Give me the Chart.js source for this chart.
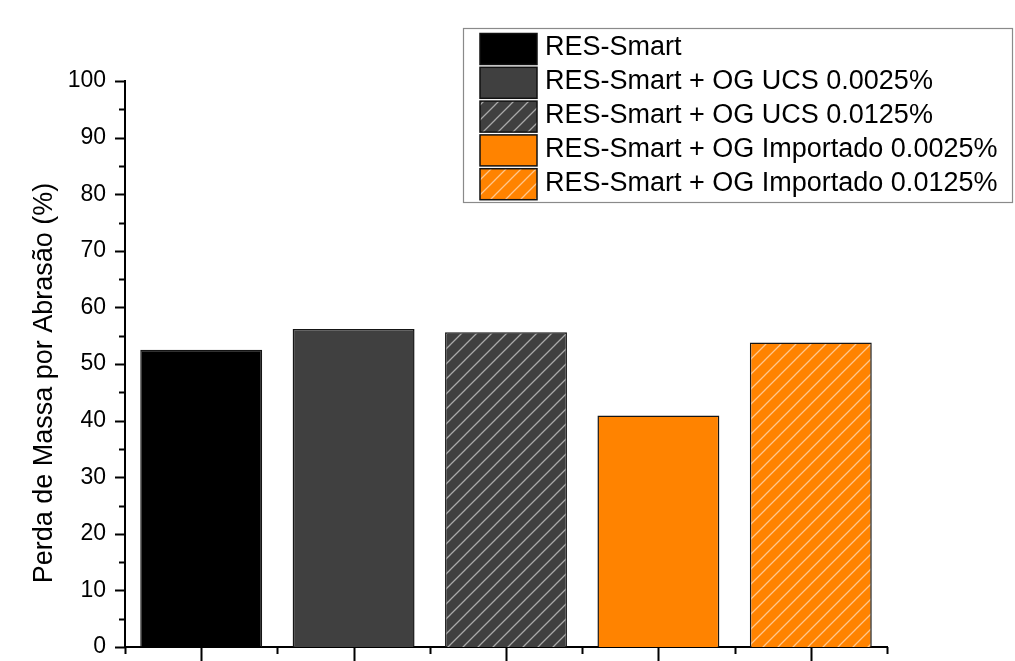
<!DOCTYPE html>
<html>
<head>
<meta charset="utf-8">
<script src="https://cdn.jsdelivr.net/npm/chart.js@4.4.1/dist/chart.umd.min.js"></script>
<style>
  html, body { margin: 0; padding: 0; background: #ffffff; }
  #wrap { width: 1015px; height: 661px; }
</style>
</head>
<body>
<div id="wrap"><canvas id="c" width="1015" height="661"></canvas></div>
<script>
// Amostras (categorias do eixo x / legenda)
const samples = [
  'RES-Smart',
  'RES-Smart + OG UCS 0.0025%',
  'RES-Smart + OG UCS 0.0125%',
  'RES-Smart + OG Importado 0.0025%',
  'RES-Smart + OG Importado 0.0125%'
];
// Perda de massa por abrasão (%)
const massLoss = [52.5, 56.2, 55.6, 40.9, 53.8];
// Rótulos do eixo y
const yTickValues = [0, 10, 20, 30, 40, 50, 60, 70, 80, 90, 100];
const yMinorValues = [5, 15, 25, 35, 45, 55, 65, 75, 85, 95];
const yTitle = 'Perda de Massa por Abrasão (%)';

const baseColors = ['#000000', '#404040', '#404040', '#FF8300', '#FF8300'];
const hatched = [false, false, true, false, true];

const FONT = 'Liberation Sans, Arial, Helvetica, sans-serif';

// diagonal "/" hatch over a solid base colour
function hatchPattern(ctx, base) {
  const s = 15;
  const t = document.createElement('canvas');
  t.width = s; t.height = s;
  const g = t.getContext('2d');
  g.fillStyle = base;
  g.fillRect(0, 0, s, s);
  g.strokeStyle = 'rgba(255,255,255,0.55)';
  g.lineWidth = 1.3;
  g.beginPath();
  g.moveTo(-2, s + 2); g.lineTo(s + 2, -2);
  g.moveTo(-2, 2); g.lineTo(2, -2);
  g.moveTo(s - 2, s + 2); g.lineTo(s + 2, s - 2);
  g.stroke();
  return ctx.createPattern(t, 'repeat');
}

const canvas = document.getElementById('c');
const ctx0 = canvas.getContext('2d');
const fills = baseColors.map((c, i) => hatched[i] ? hatchPattern(ctx0, c) : c);

const decorations = {
  id: 'decorations',
  afterDraw(chart) {
    const ctx = chart.ctx;
    const xs = chart.scales.x;
    const ys = chart.scales.y;
    const area = chart.chartArea;
    ctx.save();
    ctx.strokeStyle = '#000';
    ctx.lineWidth = 2;
    ctx.beginPath();
    // y ticks
    yTickValues.forEach(v => {
      const y = Math.round(ys.getPixelForValue(v)) + 0.5;
      ctx.moveTo(area.left - 10, y); ctx.lineTo(area.left, y);
    });
    yMinorValues.forEach(v => {
      const y = Math.round(ys.getPixelForValue(v)) + 0.5;
      ctx.moveTo(area.left - 6, y); ctx.lineTo(area.left, y);
    });
    // x ticks: major at category centres, minor at boundaries
    const n = samples.length;
    for (let i = 0; i < n; i++) {
      const x = Math.round(xs.getPixelForValue(i)) + 0.5;
      ctx.moveTo(x, area.bottom); ctx.lineTo(x, area.bottom + 14);
    }
    for (let i = 0; i <= n; i++) {
      const x = Math.round(xs.getPixelForValue(i - 0.5)) + 0.5;
      ctx.moveTo(x, area.bottom); ctx.lineTo(x, area.bottom + 7);
    }
    ctx.stroke();

    // y axis title
    ctx.fillStyle = '#000';
    ctx.font = '27px ' + FONT;
    ctx.textAlign = 'center';
    ctx.textBaseline = 'middle';
    ctx.translate(45, 383);
    ctx.rotate(-Math.PI / 2);
    ctx.fillText(yTitle, 0, 0);
    ctx.restore();

    // legend
    ctx.save();
    const bx = 463.5, by = 28.5, bw = 549, bh = 174;
    ctx.strokeStyle = '#8a8a8a';
    ctx.lineWidth = 1.2;
    ctx.strokeRect(bx, by, bw, bh);
    ctx.font = '27px ' + FONT;
    ctx.textAlign = 'left';
    ctx.textBaseline = 'middle';
    for (let i = 0; i < n; i++) {
      const top = 33.5 + i * 33.8;
      ctx.fillStyle = fills[i];
      ctx.fillRect(480, top, 57, 31);
      ctx.strokeStyle = '#111';
      ctx.lineWidth = 1.5;
      ctx.strokeRect(480, top, 57, 31);
      ctx.fillStyle = '#000';
      ctx.fillText(samples[i], 545, top + 14.5);
    }
    ctx.restore();
  }
};

new Chart(canvas, {
  type: 'bar',
  data: {
    labels: samples,
    datasets: [{
      data: massLoss,
      backgroundColor: fills,
      borderColor: '#151515',
      borderWidth: 1.5,
      categoryPercentage: 1,
      barPercentage: 0.8
    }]
  },
  options: {
    responsive: false,
    maintainAspectRatio: false,
    animation: false,
    devicePixelRatio: 1,
    layout: { padding: { left: 0, top: 81, right: 128, bottom: 0 } },
    plugins: { legend: { display: false }, tooltip: { enabled: false } },
    scales: {
      x: {
        offset: true,
        grid: { display: false, drawTicks: false },
        border: { display: true, color: '#000', width: 2 },
        ticks: { display: false, padding: 0 },
        afterFit(s) { s.height = 14; }
      },
      y: {
        min: 0, max: 100,
        grid: { display: false, drawTicks: true, tickLength: 19 },
        border: { display: true, color: '#000', width: 2 },
        ticks: {
          stepSize: 10,
          color: '#000',
          padding: 0,
          font: { family: FONT, size: 23 }
        },
        afterFit(s) { s.width = 125; }
      }
    }
  },
  plugins: [decorations]
});
</script>
</body>
</html>
